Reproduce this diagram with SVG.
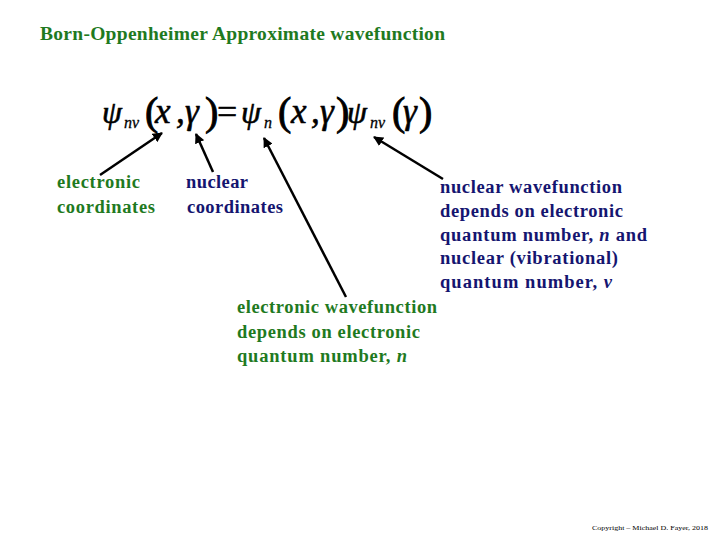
<svg xmlns="http://www.w3.org/2000/svg" width="720" height="540" viewBox="0 0 720 540">
<style>
.t{font-family:"Liberation Serif","Times New Roman",serif;font-weight:bold;font-size:18.5px}
.g{fill:#1f7a1f}
.b{fill:#151570}
.eq{font-family:"Liberation Serif","Times New Roman",serif;font-style:italic;font-size:35px;fill:#000;stroke:#000;stroke-width:0.6}
.ps{font-family:"Liberation Serif","Times New Roman",serif;font-style:italic;font-size:32px;fill:#000;stroke:#000;stroke-width:0.6}
.p{font-family:"Liberation Serif","Times New Roman",serif;font-size:40px;fill:#000;stroke:#000;stroke-width:0.9}
.s{font-family:"Liberation Serif","Times New Roman",serif;font-style:italic;font-size:16px;fill:#000;stroke:#000;stroke-width:0.3}
.ln{stroke:#000;stroke-width:2.5;fill:none}
</style>
<defs>
<marker id="ah" viewBox="0 0 10 10" refX="9" refY="5" markerWidth="4" markerHeight="4" orient="auto" markerUnits="strokeWidth">
<path d="M0,0 L10,5 L0,10 z" fill="#000"/>
</marker>
</defs>
<rect width="720" height="540" fill="#fff"/>
<g id="title"><text class="t g" x="40" y="40" style="font-size:19.5px" textLength="405" lengthAdjust="spacing">Born-Oppenheimer Approximate wavefunction</text></g>
<g id="equation">
<text class="ps" x="102" y="123">ψ</text>
<text class="s" x="124" y="128">nv</text>
<text class="p" x="145" y="125">(</text>
<text class="eq" x="155" y="123">x</text>
<text class="eq" x="176" y="123">,</text>
<text class="eq" x="185" y="123">γ</text>
<text class="p" x="205" y="125">)</text>
<text x="217" y="124" style="font-family:'Liberation Serif',serif;font-size:36px;stroke:#000;stroke-width:0.5">=</text>
<text class="ps" x="241" y="123">ψ</text>
<text class="s" x="264" y="128">n</text>
<text class="p" x="278" y="125">(</text>
<text class="eq" x="291" y="123">x</text>
<text class="eq" x="311" y="123">,</text>
<text class="eq" x="320" y="123">γ</text>
<text class="p" x="336" y="125">)</text>
<text class="ps" x="347" y="123">ψ</text>
<text class="s" x="370" y="128">nv</text>
<text class="p" x="392" y="125">(</text>
<text class="eq" x="403" y="123">γ</text>
<text class="p" x="419" y="125">)</text>
</g>
<g id="connectors">
<line class="ln" x1="100" y1="175" x2="162" y2="133" marker-end="url(#ah)"/>
<line class="ln" x1="213" y1="172" x2="196" y2="134" marker-end="url(#ah)"/>
<line class="ln" x1="346" y1="297" x2="264" y2="138" marker-end="url(#ah)"/>
<line class="ln" x1="443" y1="179" x2="374" y2="137" marker-end="url(#ah)"/>
</g>
<g id="electronic-coordinates">
<text class="t g" x="57" y="188" textLength="83" lengthAdjust="spacing">electronic</text>
<text class="t g" x="57" y="213" textLength="98" lengthAdjust="spacing">coordinates</text>
</g>
<g id="nuclear-coordinates">
<text class="t b" x="186" y="188" textLength="62" lengthAdjust="spacing">nuclear</text>
<text class="t b" x="187" y="213" textLength="96" lengthAdjust="spacing">coordinates</text>
</g>
<g id="nuclear-wavefunction">
<text class="t b" x="440" y="193" textLength="182" lengthAdjust="spacing">nuclear wavefunction</text>
<text class="t b" x="440" y="217" textLength="183" lengthAdjust="spacing">depends on electronic</text>
<text class="t b" x="440" y="241" textLength="207" lengthAdjust="spacing">quantum number, <tspan font-style="italic">n</tspan> and</text>
<text class="t b" x="440" y="264" textLength="178" lengthAdjust="spacing">nuclear (vibrational)</text>
<text class="t b" x="440" y="288" textLength="172" lengthAdjust="spacing">quantum number, <tspan font-style="italic">ν</tspan></text>
</g>
<g id="electronic-wavefunction">
<text class="t g" x="237" y="313" textLength="200" lengthAdjust="spacing">electronic wavefunction</text>
<text class="t g" x="237" y="338" textLength="183" lengthAdjust="spacing">depends on electronic</text>
<text class="t g" x="237" y="362" textLength="170" lengthAdjust="spacing">quantum number, <tspan font-style="italic">n</tspan></text>
</g>
<g id="copyright"><text x="592" y="530" style="font-family:'Liberation Serif',serif;font-size:7px;fill:#000" textLength="116" lengthAdjust="spacingAndGlyphs">Copyright – Michael D. Fayer, 2018</text></g>
</svg>
